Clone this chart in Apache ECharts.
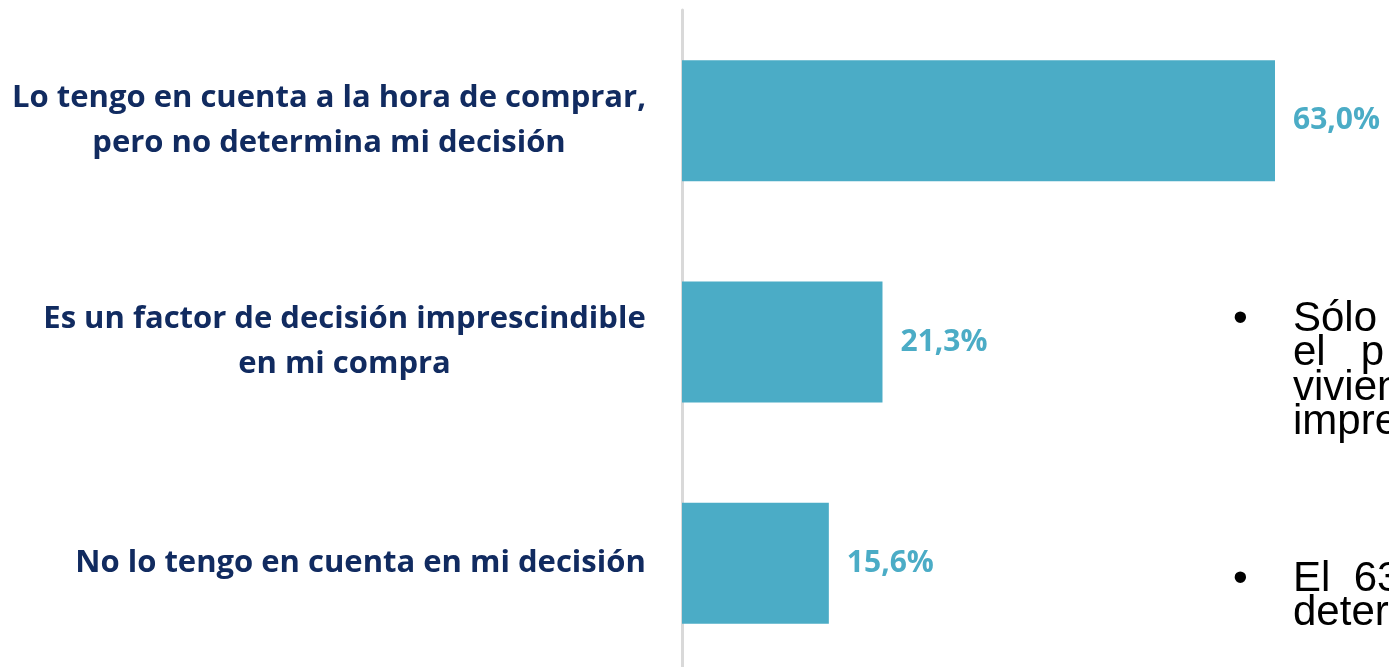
<!DOCTYPE html>
<html>
<head>
<meta charset="utf-8">
<script src="https://cdn.jsdelivr.net/npm/echarts@6/dist/echarts.min.js"></script>
<style>
  html, body { margin: 0; padding: 0; background: #fff; }
  #chart { width: 1389px; height: 667px; }
</style>
</head>
<body>
<div id="chart"></div>
<script>
// categories top to bottom
const categories = [
  'Lo tengo en cuenta a la hora de comprar,\npero no determina mi decisión',
  'Es un factor de decisión imprescindible\nen mi compra',
  'No lo tengo en cuenta en mi decisión'
]
const values = [63.0, 21.3, 15.6]
// side note, cut off at the right edge of the slide
const noteLines = ['Sólo', 'el   p', 'vivien', 'impre']
const noteLines2 = ['El  63', 'deter']

const chart = echarts.init(document.getElementById('chart'))

// labels: block sits right against the axis, lines centred inside the block
const labelFont = 'bold 31px "Open Sans"'
const ctx = document.createElement('canvas').getContext('2d')
ctx.font = labelFont
const rich = {}
categories.forEach((c, i) => {
  const w = Math.max(...c.split('\n').map(s => ctx.measureText(s).width))
  rich['l' + i] = {
    width: Math.ceil(w),
    align: 'center',
    color: '#112b60',
    fontFamily: 'Open Sans',
    fontWeight: 'bold',
    fontSize: 31,
    lineHeight: 45
  }
})

const noteFont = '42px "Liberation Sans", Arial, sans-serif'
const graphics = [
  { type: 'text', left: 1233, top: 298, style: { text: '•', font: noteFont, fill: '#000' } },
  { type: 'text', left: 1233, top: 558, style: { text: '•', font: noteFont, fill: '#000' } },
  {
    type: 'text', left: 1293, top: 298,
    style: { text: noteLines.join('\n'), font: noteFont, lineHeight: 34.5, fill: '#000' }
  },
  {
    type: 'text', left: 1293, top: 558,
    style: { text: noteLines2.join('\n'), font: noteFont, lineHeight: 34.5, fill: '#000' }
  }
]

chart.setOption({
  animation: false,
  grid: {
    left: 682, top: 10, width: 593, height: 664,
    containLabel: false, outerBoundsMode: 'none'
  },
  xAxis: {
    type: 'value',
    min: 0,
    max: 63,
    show: false
  },
  yAxis: {
    type: 'category',
    inverse: true,
    data: categories,
    axisLine: { show: true, lineStyle: { color: '#d9d9d9', width: 3 } },
    axisTick: { show: false },
    axisLabel: {
      align: 'right',
      margin: 36,
      formatter: (val, idx) =>
        val.split('\n').map(s => '{l' + idx + '|' + s + '}').join('\n'),
      rich: rich
    }
  },
  series: [
    {
      type: 'bar',
      data: values,
      barWidth: 121,
      itemStyle: { color: '#4bacc6' },
      label: {
        show: true,
        position: 'right',
        distance: 18,
        color: '#4bacc6',
        fontFamily: 'Open Sans',
        fontWeight: 'bold',
        fontSize: 30,
        formatter: p => p.value.toFixed(1).replace('.', ',') + '%'
      }
    }
  ],
  graphic: graphics
})
</script>
</body>
</html>
